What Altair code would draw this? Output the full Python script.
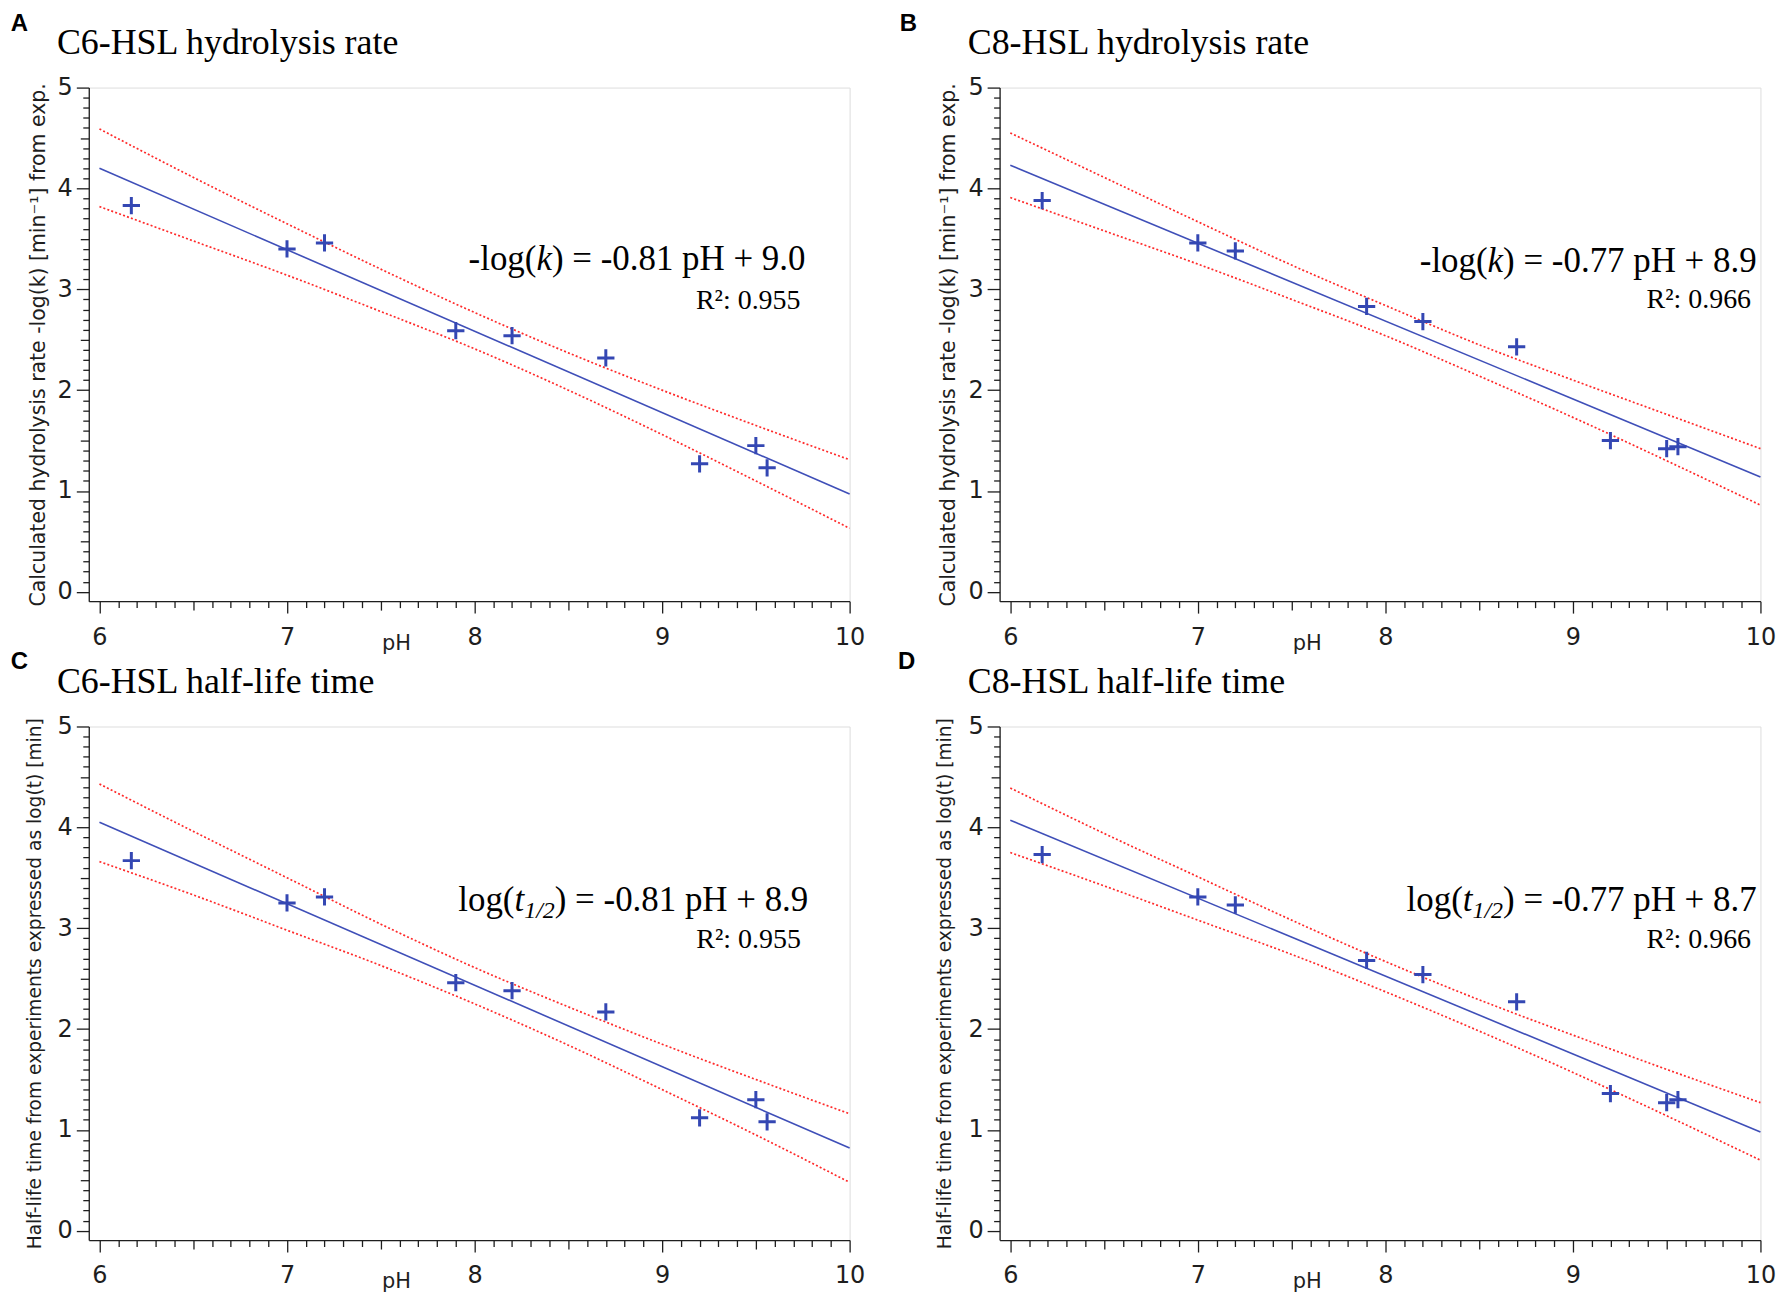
import altair as alt
import pandas as pd

# ---------------- data ----------------
ph = [6.17, 7.00, 7.20, 7.90, 8.20, 8.70, 9.20, 9.50, 9.56]
c6_rate = [3.83, 3.40, 3.46, 2.59, 2.54, 2.32, 1.27, 1.45, 1.23]
c8_rate = [3.88, 3.46, 3.38, 2.83, 2.68, 2.43, 1.50, 1.42, 1.44]
c6_half = [3.67, 3.25, 3.31, 2.46, 2.38, 2.17, 1.12, 1.30, 1.08]
c8_half = [3.73, 3.31, 3.23, 2.68, 2.54, 2.27, 1.36, 1.27, 1.30]

fit_ph = [6.0, 10.0]
c6_rate_fit = [4.20, 0.97]
c8_rate_fit = [4.23, 1.14]
c6_half_fit = [4.05, 0.82]
c8_half_fit = [4.07, 0.98]

band_ph = [6.0, 6.5, 7.0, 7.5, 8.0, 8.5, 9.0, 9.5, 10.0]
c6_rate_upper = [4.59, 4.11, 3.65, 3.20, 2.77, 2.37, 2.00, 1.65, 1.31]
c6_rate_lower = [3.82, 3.48, 3.14, 2.78, 2.41, 2.00, 1.56, 1.10, 0.63]
c8_rate_upper = [4.55, 4.11, 3.67, 3.24, 2.84, 2.45, 2.10, 1.76, 1.42]
c8_rate_lower = [3.91, 3.58, 3.25, 2.90, 2.54, 2.14, 1.73, 1.30, 0.86]
c6_half_upper = [4.43, 3.96, 3.50, 3.04, 2.61, 2.22, 1.85, 1.50, 1.16]
c6_half_lower = [3.66, 3.33, 2.98, 2.63, 2.25, 1.84, 1.40, 0.95, 0.48]
c8_half_upper = [4.39, 3.94, 3.51, 3.08, 2.67, 2.29, 1.94, 1.60, 1.27]
c8_half_lower = [3.75, 3.42, 3.08, 2.74, 2.37, 1.98, 1.57, 1.14, 0.70]

x_ticks = [6, 7, 8, 9, 10]
y_ticks = [0, 1, 2, 3, 4, 5]
x_mid_ticks = [6.5, 7.5, 8.5, 9.5]
y_mid_ticks = [0.5, 1.5, 2.5, 3.5, 4.5]
x_minor_ticks = [round(6 + i / 10, 1) for i in range(41) if i % 5 != 0]
y_minor_ticks = [round(i / 10, 1) for i in range(51) if i % 5 != 0]

panel_letters = ["A", "B", "C", "D"]
panel_titles = ["C6-HSL hydrolysis rate", "C8-HSL hydrolysis rate",
                "C6-HSL half-life time", "C8-HSL half-life time"]
rate_ytitle = "Calculated hydrolysis rate -log(k)  [min\u207b\u00b9] from exp."
half_ytitle = "Half-life time from experiments expressed as log(t)  [min]"
r2_labels = ["R\u00b2: 0.955", "R\u00b2: 0.966", "R\u00b2: 0.955", "R\u00b2: 0.966"]
eq_rate_c6 = [("-log(", "r"), ("k", "i"), (") = -0.81 pH + 9.0", "r")]
eq_rate_c8 = [("-log(", "r"), ("k", "i"), (") = -0.77 pH + 8.9", "r")]
eq_half_c6 = [("log(", "r"), ("t", "i"), ("1/2", "s"), (") = -0.81 pH + 8.9", "r")]
eq_half_c8 = [("log(", "r"), ("t", "i"), ("1/2", "s"), (") = -0.77 pH + 8.7", "r")]

# ---------------- styling ----------------
SERIF = "Liberation Serif"
SANS = "DejaVu Sans"
BLUE_PT = "#3447b3"
BLUE_LN = "#3f4fb8"
RED = "#ff2a2a"
AX = "#1e1e1e"
XDOM = [5.943, 10.0]
YDOM = [-0.092, 5.0]
PW, PH_ = 763, 515
EQ_SIZE = 35
SUB_SIZE = 24
R2_SIZE = 28
TITLE_SIZE = 36
TICK_LABEL_SIZE = 24

# Times (Liberation Serif) advance widths, per 1000 em
W_REG = {' ': 250, '(': 333, ')': 333, '+': 564, '-': 333, '.': 250, '/': 278,
         ':': 278, '=': 564, 'H': 722, 'R': 667, 'g': 500, 'l': 278, 'o': 500,
         'p': 500, 'k': 500, 't': 278}
W_IT = {'k': 444, 't': 278, '1': 500, '/': 278, '2': 500}


def text_width(s, style):
    tab = W_IT if style in ("i", "s") else W_REG
    size = SUB_SIZE if style == "s" else EQ_SIZE
    return sum(tab.get(c, 500) for c in s) * size / 1000.0


def equation_layers(pieces, x_right, y_base, xs, ys):
    widths = [text_width(t, st) for t, st in pieces]
    total = sum(widths)
    layers = []
    cum = 0.0
    df = pd.DataFrame({"x": [x_right], "y": [y_base]})
    for (t, st), w in zip(pieces, widths):
        mark = alt.Chart(df).mark_text(
            text=t, align="left", baseline="alphabetic", font=SERIF,
            fontSize=SUB_SIZE if st == "s" else EQ_SIZE,
            fontStyle="italic" if st in ("i", "s") else "normal",
            dx=cum - total, dy=7 if st == "s" else 0, color="black",
        ).encode(x=alt.X("x:Q", scale=xs, axis=None),
                 y=alt.Y("y:Q", scale=ys, axis=None))
        layers.append(mark)
        cum += w
    return layers


def label_layer(x, y, text, xs, ys, **style):
    df = pd.DataFrame({"x": [x], "y": [y], "t": [text]})
    return alt.Chart(df).mark_text(align="left", baseline="alphabetic", **style).encode(
        x=alt.X("x:Q", scale=xs, axis=None), y=alt.Y("y:Q", scale=ys, axis=None),
        text="t:N")


def panel(idx, yvals, fit, upper, lower, ytitle, ytitle_size, ytitle_pad,
          eq, eq_x, eq_y, r2_x, r2_y, letter_x, letter_y, title_x, title_y):
    xs = alt.Scale(domain=XDOM, nice=False, zero=False)
    ys = alt.Scale(domain=YDOM, nice=False, zero=False)

    major_x = alt.Axis(orient="bottom", values=x_ticks, tickSize=12, tickWidth=1.3,
                       tickColor=AX, domainColor=AX, domainWidth=1.3, grid=False,
                       labelFont=SANS, labelFontSize=TICK_LABEL_SIZE, labelColor=AX,
                       labelPadding=12, labelFlush=False, labelOverlap=False,
                       title="pH", titleFont=SANS, titleFontSize=21,
                       titleFontWeight="normal", titleColor=AX, titleX=308, titleY=48,
                       titleAlign="center", titleBaseline="alphabetic")
    major_y = alt.Axis(orient="left", values=y_ticks, tickSize=12.5, tickWidth=1.3,
                       tickColor=AX, domainColor=AX, domainWidth=1.3, grid=False,
                       labelFont=SANS, labelFontSize=TICK_LABEL_SIZE, labelColor=AX,
                       labelPadding=4, labelFlush=False, labelOverlap=False,
                       title=ytitle, titleFont=SANS, titleFontSize=ytitle_size,
                       titleFontWeight="normal", titleColor=AX, titlePadding=ytitle_pad)
    mid_x = alt.Axis(orient="bottom", values=x_mid_ticks, tickSize=9, tickWidth=1.3,
                     tickColor=AX, domain=False, labels=False, grid=False, title=None)
    mid_y = alt.Axis(orient="left", values=y_mid_ticks, tickSize=8.5, tickWidth=1.3,
                     tickColor=AX, domain=False, labels=False, grid=False, title=None)
    minor_x = alt.Axis(orient="bottom", values=x_minor_ticks, tickSize=6.5, tickWidth=1.3,
                       tickColor=AX, domain=False, labels=False, grid=False, title=None)
    minor_y = alt.Axis(orient="left", values=y_minor_ticks, tickSize=6, tickWidth=1.3,
                       tickColor=AX, domain=False, labels=False, grid=False, title=None)

    band_df = pd.DataFrame({
        "x": band_ph + band_ph,
        "y": upper + lower,
        "side": ["upper"] * len(band_ph) + ["lower"] * len(band_ph),
    })
    fit_df = pd.DataFrame({"x": fit_ph, "y": fit})
    pts_df = pd.DataFrame({"x": ph, "y": yvals})

    bands = alt.Chart(band_df).mark_line(
        color=RED, strokeWidth=1.7, strokeDash=[2, 2.2], interpolate="monotone"
    ).encode(x=alt.X("x:Q", scale=xs, axis=mid_x),
             y=alt.Y("y:Q", scale=ys, axis=mid_y),
             detail="side:N")
    fitline = alt.Chart(fit_df).mark_line(color=BLUE_LN, strokeWidth=1.6).encode(
        x=alt.X("x:Q", scale=xs, axis=minor_x),
        y=alt.Y("y:Q", scale=ys, axis=minor_y))
    points = alt.Chart(pts_df).mark_point(
        shape="M-1,0H1M0,-1V1", filled=False, size=300, strokeWidth=3,
        color=BLUE_PT, opacity=1
    ).encode(x=alt.X("x:Q", scale=xs, axis=major_x),
             y=alt.Y("y:Q", scale=ys, axis=major_y))

    r2 = alt.Chart(pd.DataFrame({"x": [r2_x], "y": [r2_y], "t": [r2_labels[idx]]})).mark_text(
        align="right", baseline="alphabetic", font=SERIF, fontSize=R2_SIZE, color="black"
    ).encode(x=alt.X("x:Q", scale=xs, axis=None), y=alt.Y("y:Q", scale=ys, axis=None),
             text="t:N")
    letter = label_layer(letter_x, letter_y, panel_letters[idx], xs, ys,
                         font="Liberation Sans", fontSize=24, fontWeight="bold",
                         color="black")
    title = label_layer(title_x, title_y, panel_titles[idx], xs, ys,
                        font=SERIF, fontSize=TITLE_SIZE, color="black")

    layers = [bands, fitline, points] + equation_layers(eq, eq_x, eq_y, xs, ys) + [r2, letter, title]
    return alt.layer(*layers).resolve_axis(x="independent", y="independent").properties(
        width=PW, height=PH_)


TX = 5.773
TY = 5.336
pA = panel(0, c6_rate, c6_rate_fit, c6_rate_upper, c6_rate_lower, rate_ytitle, 20.5, 9,
           eq_rate_c6, 9.765, 3.19, 9.738, 2.806, 5.527, 5.564, TX, TY)
pB = panel(1, c8_rate, c8_rate_fit, c8_rate_upper, c8_rate_lower, rate_ytitle, 20.5, 9,
           eq_rate_c8, 9.98, 3.17, 9.95, 2.81, 5.411, 5.564, TX, TY)
pC = panel(2, c6_half, c6_half_fit, c6_half_upper, c6_half_lower, half_ytitle, 18.7, 13,
           eq_half_c6, 9.78, 3.17, 9.74, 2.80, 5.527, 5.571, TX, TY)
pD = panel(3, c8_half, c8_half_fit, c8_half_upper, c8_half_lower, half_ytitle, 18.7, 13,
           eq_half_c8, 9.98, 3.17, 9.95, 2.80, 5.401, 5.571, TX, TY)

chart = alt.concat(pA, pB, pC, pD, columns=2,
                   spacing={"row": 125.7, "column": 150.4}, bounds="flush").properties(
    padding={"left": 2, "top": 1, "right": 0, "bottom": 0}
).configure_view(stroke=None).configure(background="white")

chart.save("out.html", embed_options={"renderer": "svg", "actions": False})
